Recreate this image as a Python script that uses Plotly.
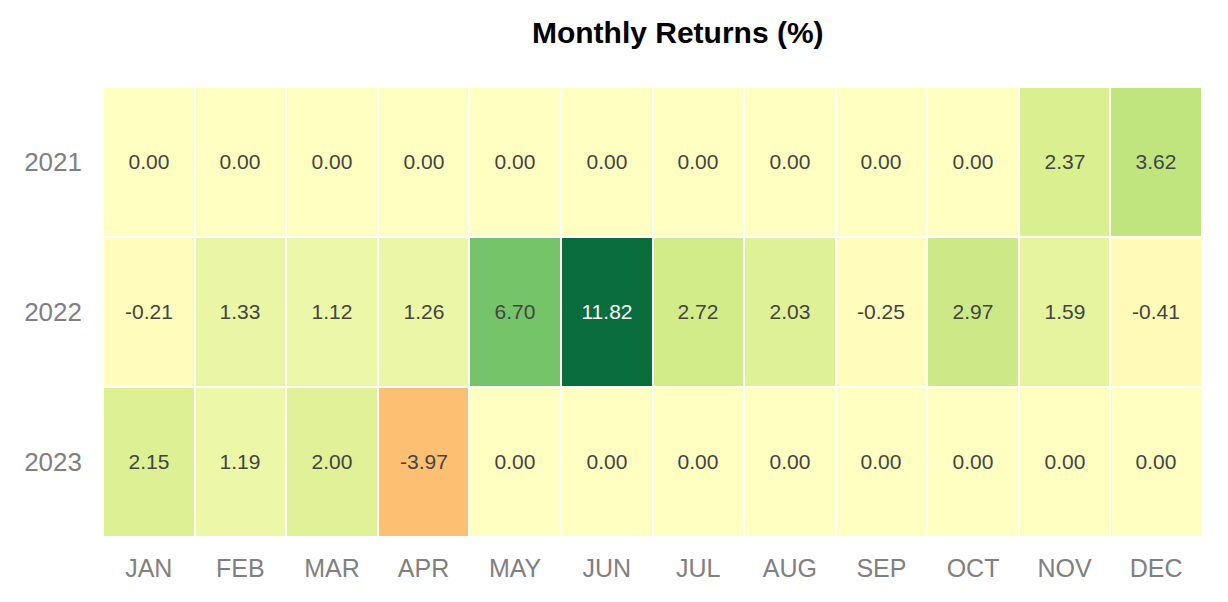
import plotly.graph_objects as go

months = ["JAN", "FEB", "MAR", "APR", "MAY", "JUN", "JUL", "AUG", "SEP", "OCT", "NOV", "DEC"]
years = ["2021", "2022", "2023"]
ret_2021 = [0.00, 0.00, 0.00, 0.00, 0.00, 0.00, 0.00, 0.00, 0.00, 0.00, 2.37, 3.62]
ret_2022 = [-0.21, 1.33, 1.12, 1.26, 6.70, 11.82, 2.72, 2.03, -0.25, 2.97, 1.59, -0.41]
ret_2023 = [2.15, 1.19, 2.00, -3.97, 0.00, 0.00, 0.00, 0.00, 0.00, 0.00, 0.00, 0.00]

z = [ret_2021, ret_2022, ret_2023]
zmax = max(abs(v) for row in z for v in row)

fig = go.Figure(go.Heatmap(
    z=z, x=months, y=years,
    colorscale="RdYlGn", zmin=-zmax, zmax=zmax, zmid=0,
    showscale=False, xgap=2, ygap=2, opacity=0.96,
    texttemplate="%{z:.2f}",
    textfont=dict(size=21, family="Arial, Liberation Sans, sans-serif"),
    hoverinfo="skip",
))

fig.update_layout(
    width=1220, height=594,
    margin=dict(l=95, r=26, t=79, b=65),
    paper_bgcolor="white", plot_bgcolor="white",
    font=dict(family="Arial, Liberation Sans, sans-serif"),
    title=dict(text="<b>Monthly Returns (%)</b>", x=0.549, xref="container", xanchor="center",
               y=0.958, yref="container", yanchor="middle",
               font=dict(size=30, color="black")),
)
fig.update_xaxes(showgrid=False, zeroline=False, ticks="", ticklen=0, ticklabelstandoff=14,
                 tickfont=dict(size=25, color="#808080"))
fig.update_yaxes(autorange="reversed", showgrid=False, zeroline=False, ticks="", ticklen=0,
                 ticklabelstandoff=20, tickfont=dict(size=26, color="#808080"))

fig.write_html("out.html")
